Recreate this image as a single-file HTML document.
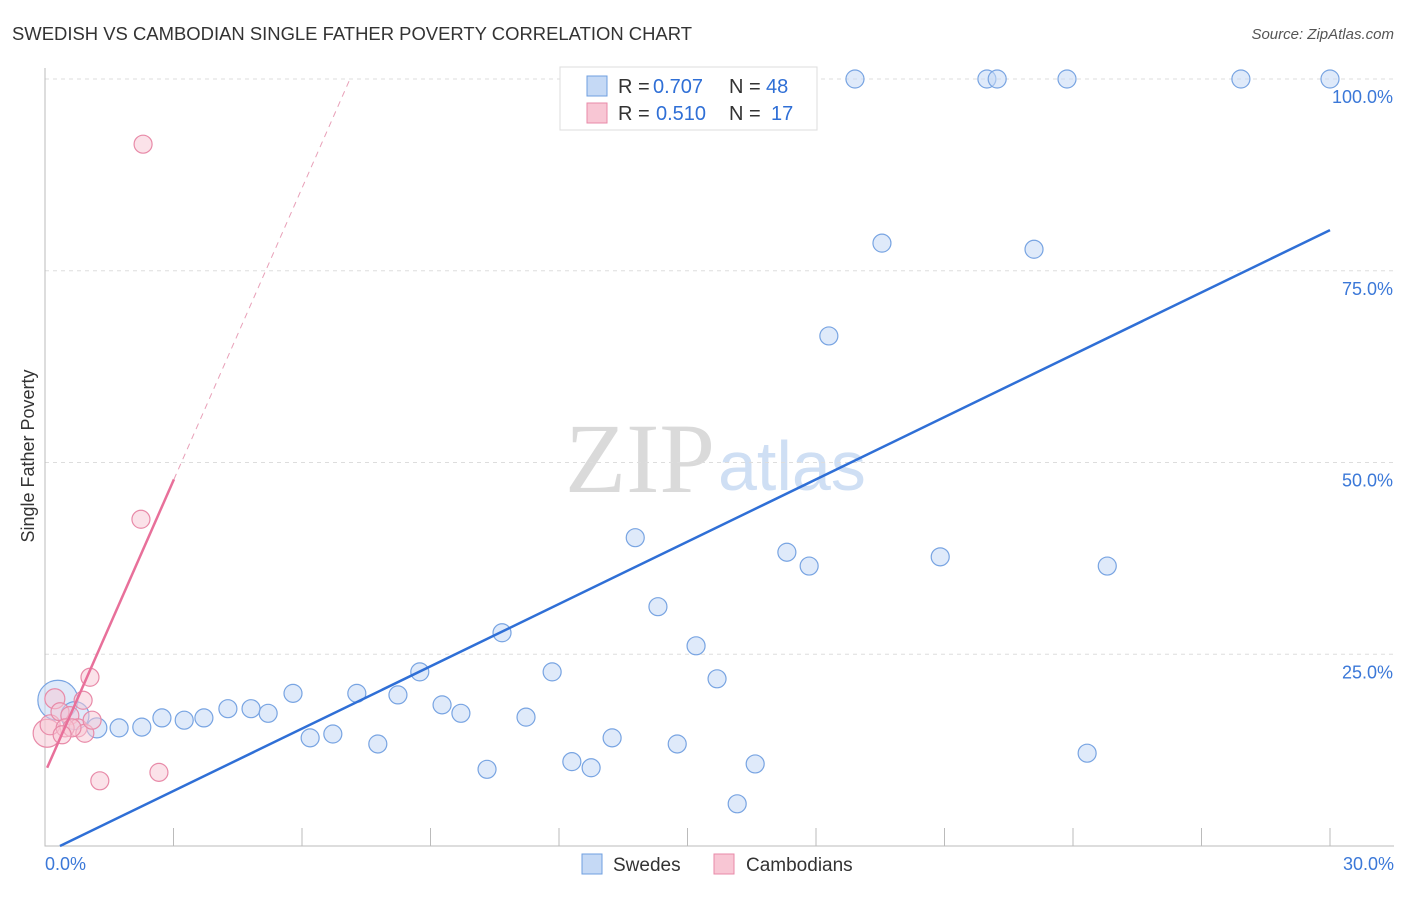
<!DOCTYPE html>
<html><head><meta charset="utf-8"><style>
body{margin:0;background:#fff;font-family:"Liberation Sans",sans-serif}
</style></head><body>
<svg width="1406" height="892" xmlns="http://www.w3.org/2000/svg" font-family="Liberation Sans, sans-serif">
<text x="12" y="40" font-size="18" fill="#333" textLength="680" lengthAdjust="spacingAndGlyphs">SWEDISH VS CAMBODIAN SINGLE FATHER POVERTY CORRELATION CHART</text>
<text x="1394" y="39" font-size="15" fill="#555" text-anchor="end" font-style="italic">Source: ZipAtlas.com</text>
<text x="715" y="492" font-size="100" fill="#dadada" text-anchor="end" font-family="Liberation Serif, serif">ZIP</text>
<text x="718" y="490" font-size="70" fill="#cfdff4">atlas</text>
<g id="grid"></g>
<g id="marks"></g>
<text x="34" y="456" font-size="18" fill="#333" text-anchor="middle" transform="rotate(-90 34 456)">Single Father Poverty</text>
<g>
<rect x="560" y="67" width="257" height="63" fill="#fff" stroke="#ddd"/>
<rect x="587" y="76" width="20" height="20" fill="#c5d9f5" stroke="#6f9fe0"/>
<rect x="587" y="103" width="20" height="20" fill="#f8c6d4" stroke="#e88aa8"/>
<text x="618" y="93" font-size="20" fill="#333">R =</text>
<text x="653" y="93" font-size="20" fill="#2f6fd6">0.707</text>
<text x="729" y="93" font-size="20" fill="#333">N =</text>
<text x="766" y="93" font-size="20" fill="#2f6fd6">48</text>
<text x="618" y="120" font-size="20" fill="#333">R =</text>
<text x="656" y="120" font-size="20" fill="#2f6fd6">0.510</text>
<text x="729" y="120" font-size="20" fill="#333">N =</text>
<text x="771" y="120" font-size="20" fill="#2f6fd6">17</text>
</g>
<g>
<rect x="582" y="854" width="20" height="20" fill="#c5d9f5" stroke="#6f9fe0"/>
<text x="613" y="871" font-size="19" fill="#333">Swedes</text>
<rect x="714" y="854" width="20" height="20" fill="#f8c6d4" stroke="#e88aa8"/>
<text x="746" y="871" font-size="19" fill="#333">Cambodians</text>
</g>
</svg>
<script>
const yTicks=[25,50,75,100];
const yTickLabels=["25.0%","50.0%","75.0%","100.0%"];
const xTickVals=[3,6,9,12,15,18,21,24,27,30];
const xEndLabels=["0.0%","30.0%"];
const swedesX=[0.30,0.70,1.21,1.73,2.26,2.73,3.25,3.71,4.27,4.81,5.21,5.79,6.19,6.72,7.28,7.77,8.24,8.75,9.27,9.71,10.32,10.67,11.23,11.84,12.30,12.75,13.24,13.78,14.31,14.76,15.20,15.69,16.16,16.58,17.32,17.84,18.30,18.91,19.54,20.90,21.99,22.23,23.09,23.86,24.33,24.80,27.92,30.0];
const swedesY=[19.0,17.0,15.4,15.4,15.5,16.7,16.4,16.7,17.9,17.9,17.3,19.9,14.1,14.6,19.9,13.3,19.7,22.7,18.4,17.3,10.0,27.8,16.8,22.7,11.0,10.2,14.1,40.2,31.2,13.3,26.1,21.8,5.5,10.7,38.3,36.5,66.5,100,78.6,37.7,100,100,77.8,100,12.1,36.5,100,100];
const swedesR=[20,14,10,9,9,9,9,9,9,9,9,9,9,9,9,9,9,9,9,9,9,9,9,9,9,9,9,9,9,9,9,9,9,9,9,9,9,9,9,9,9,9,9,9,9,9,9,9];
const cambX=[0.05,0.12,0.23,0.35,0.58,0.77,0.89,0.93,1.10,1.05,1.28,2.29,2.24,2.66,0.47,0.63,0.40];
const cambY=[14.7,15.8,19.2,17.5,17.0,15.4,19.0,14.7,16.4,22.0,8.5,91.5,42.6,9.6,15.4,15.4,14.5];
const cambR=[14,10,10,9,9,9,9,9,9,9,9,9,9,9,9,9,9];
const swedesLine=[[0.35,0],[30,80.3]];
const cambLine=[[0.05,10.2],[3.01,47.8]];
const cambDash=[[3.01,47.8],[7.12,100]];
const X=v=>45+v/30*1285, Y=v=>846-v*7.67;
const NS="http://www.w3.org/2000/svg";
function mk(p,t,a){const e=document.createElementNS(NS,t);for(const k in a)e.setAttribute(k,a[k]);p.appendChild(e);return e;}
const g=document.getElementById('grid'), m=document.getElementById('marks');
yTicks.forEach((t,i)=>{
 const l=mk(g,'line',{x1:45,x2:1394,y1:Y(t),y2:Y(t),stroke:'#ddd','stroke-dasharray':'4,4'});
 
 
 const tx=mk(g,'text',{x:1393,y:Y(t)+24,'font-size':18,fill:'#3b78d8','text-anchor':'end'});
 tx.textContent=yTickLabels[i];
 
 
});
const ax=mk(g,'path',{d:'M45 68V846H1394',fill:'none',stroke:'#bbb'});


xTickVals.forEach(t=>{
 const l=mk(g,'line',{x1:X(t),x2:X(t),y1:828,y2:846,stroke:'#bbb'});
 
 
});
[[0,'start',45],[30,'end',1394]].forEach((d,i)=>{
 const tx=mk(g,'text',{x:d[2],y:870,'font-size':18,fill:'#3b78d8','text-anchor':d[1]});
 tx.textContent=xEndLabels[i];
 
 
});
swedesX.forEach((x,i)=>{
 const c=mk(m,'circle',{cx:X(x),cy:Y(swedesY[i]),r:swedesR[i],fill:'#c5d9f5','fill-opacity':0.55,stroke:'#78a4e2','stroke-width':1.2});
 
 
});
cambX.forEach((x,i)=>{
 const c=mk(m,'circle',{cx:X(x),cy:Y(cambY[i]),r:cambR[i],fill:'#f8c6d4','fill-opacity':0.5,stroke:'#e88aa8','stroke-width':1.2});
 
 
});
const bl=mk(m,'line',{x1:X(swedesLine[0][0]),y1:Y(swedesLine[0][1]),x2:X(swedesLine[1][0]),y2:Y(swedesLine[1][1]),stroke:'#2f6fd6','stroke-width':2.5});


const pl=mk(m,'line',{x1:X(cambLine[0][0]),y1:Y(cambLine[0][1]),x2:X(cambLine[1][0]),y2:Y(cambLine[1][1]),stroke:'#e8709a','stroke-width':2.5});


const pd=mk(m,'line',{x1:X(cambDash[0][0]),y1:Y(cambDash[0][1]),x2:X(cambDash[1][0]),y2:Y(cambDash[1][1]),stroke:'#e8a0b8','stroke-width':1,'stroke-dasharray':'6,5'});


</script>
</body></html>
